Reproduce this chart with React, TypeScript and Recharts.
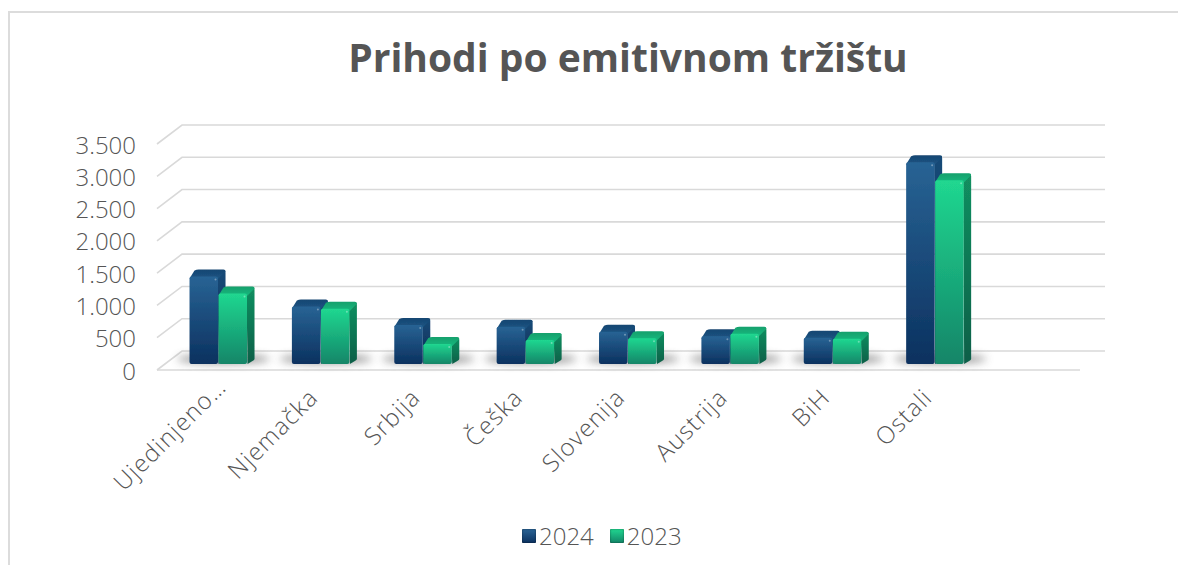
import React from "react";
import { BarChart, Bar, XAxis, YAxis, CartesianGrid } from "recharts";

const categories = ["Ujedinjeno…", "Njemačka", "Srbija", "Češka", "Slovenija", "Austrija", "BiH", "Ostali"];
const values2024 = [1355, 890, 605, 575, 500, 430, 405, 3125];
const values2023 = [1090, 855, 310, 370, 400, 470, 390, 2845];
const yTicks = [0, 500, 1000, 1500, 2000, 2500, 3000, 3500];
const seriesNames = ["2024", "2023"];
const data = categories.map((name, i) => ({ name, v2024: values2024[i], v2023: values2023[i] }));

const DX = 25, DY = 19, BX = 7, BY = 7, LIFT = 6;
const TEXT = "#555555";
const FONT = "'Open Sans', Lato, sans-serif";

function Bar3D({ x, y, width, height, tone, shadow }: any) {
  const b = y + height - LIFT, t = y - LIFT, r = x + width;
  return (
    <g>
      {shadow && <ellipse cx={x + width + 5} cy={b - 5} rx={width * 1.6} ry={4.5} fill="#555" opacity={0.62} filter="url(#soft)" />}
      <g filter="url(#edge)">
        <path d={`M${r - 1} ${t} L${r + BX - 2} ${t - BY + 1} Q${r + BX} ${t - BY} ${r + BX} ${t - BY + 3} L${r + BX} ${b - BY + 2} Q${r + BX} ${b - BY + 3} ${r + BX - 2} ${b - BY + 4} L${r} ${b} Z`} fill={`url(#side${tone})`} />
        <path d={`M${x} ${t + 2} L${x + BX - 2} ${t - BY + 1} Q${x + BX} ${t - BY} ${x + BX + 2} ${t - BY} L${r + BX - 2} ${t - BY} Q${r + BX} ${t - BY} ${r + BX} ${t - BY + 2} L${r} ${t + 2} Z`} fill={`url(#top${tone})`} />
        <rect x={x} y={t} width={width - 0.5} height={height} rx={2} fill={`url(#front${tone})`} />
        <circle cx={r - 3} cy={t + 3} r={1} fill="#fff" opacity={0.35} />
      </g>
    </g>
  );
}

function GridLine({ x1, x2, y1, index }: any) {
  return (
    <g key={`g${index}`}>
      <path d={`M${x1} ${y1} L${x1 + DX} ${y1 - DY} L${x2 + DX} ${y1 - DY}`} fill="none" stroke="#d9d9d9" strokeWidth={1.6} />
      {y1 > 360 && <line x1={x1} x2={x2} y1={y1} y2={y1} stroke="#d9d9d9" strokeWidth={1.6} />}
    </g>
  );
}

function CatTick({ x, y, payload }: any) {
  const shift = String(payload.value).endsWith("…") ? 15 : 0;
  return (
    <text transform={`translate(${x - 1},${y + 21}) rotate(-45)`} dx={shift} textAnchor="end" fill={TEXT} fontFamily={FONT} fontSize={24} fontWeight={300} letterSpacing={1.2}>
      {payload.value}
    </text>
  );
}

function Swatch({ tone }: { tone: string }) {
  return <span style={{ display: "inline-block", width: 14, height: 14, background: tone, marginRight: 3, boxShadow: "inset 0 0 2px rgba(0,0,0,0.55)", borderRadius: 1 }} />;
}

export default function App() {
  return (
    <div style={{ position: "absolute", left: 0, top: 0, width: 1178, height: 565, background: "#fff", overflow: "hidden" }}>
      <div style={{ position: "absolute", left: 8, top: 11, width: 1300, height: 700, borderLeft: "2px solid #dcdcdc", borderTop: "2px solid #dcdcdc", boxSizing: "border-box" }} />
      <div style={{ position: "absolute", left: 0, top: 33, width: 1256, textAlign: "center", color: TEXT, fontFamily: FONT, fontWeight: 700, fontSize: 39, lineHeight: "48px" }}>
        Prihodi po emitivnom tržištu
      </div>
      <BarChart width={1178} height={565} data={data} margin={{ top: 144, right: 98, bottom: 0, left: 0 }} barGap={0} barCategoryGap="22%" style={{ position: "absolute", left: 0, top: 0 }}>
        <defs>
          <filter id="soft" x="-30%" y="-100%" width="160%" height="300%"><feGaussianBlur stdDeviation="4" /></filter>
          <filter id="edge" x="-10%" y="-10%" width="120%" height="120%"><feGaussianBlur stdDeviation="0.45" /></filter>
          <linearGradient id="frontB" x1="0" y1="0" x2="0" y2="1"><stop offset="0" stopColor="#286394" /><stop offset="1" stopColor="#0b315f" /></linearGradient>
          <linearGradient id="frontG" x1="0" y1="0" x2="0" y2="1"><stop offset="0" stopColor="#20d790" /><stop offset="1" stopColor="#138568" /></linearGradient>
          <linearGradient id="sideB" x1="0" y1="0" x2="0" y2="1"><stop offset="0" stopColor="#174a78" /><stop offset="1" stopColor="#0a2c52" /></linearGradient>
          <linearGradient id="sideG" x1="0" y1="0" x2="0" y2="1"><stop offset="0" stopColor="#128f60" /><stop offset="1" stopColor="#0b5f48" /></linearGradient>
          <linearGradient id="topB" x1="0" y1="0" x2="0" y2="1"><stop offset="0" stopColor="#164672" /><stop offset="1" stopColor="#1c5482" /></linearGradient>
          <linearGradient id="topG" x1="0" y1="0" x2="0" y2="1"><stop offset="0" stopColor="#12a06c" /><stop offset="1" stopColor="#18b87e" /></linearGradient>
        </defs>
        <CartesianGrid vertical={false} horizontal={(p: any) => <GridLine {...p} />} />
        <XAxis dataKey="name" interval={0} padding={{ left: 10, right: 94 }} axisLine={false} tickLine={false} height={195} tick={<CatTick />} />
        <YAxis domain={[0, 3500]} ticks={yTicks} width={157} orientation="left" axisLine={false} tickLine={false} tickFormatter={(v: number) => v.toLocaleString("de-DE")} tick={{ fill: TEXT, fontFamily: FONT, fontSize: 24, fontWeight: 300, dy: 1 }} tickMargin={15} />
        <Bar dataKey="v2024" name={seriesNames[0]} isAnimationActive={false} shape={(p: any) => <Bar3D {...p} tone="B" shadow />} />
        <Bar dataKey="v2023" name={seriesNames[1]} isAnimationActive={false} shape={(p: any) => <Bar3D {...p} tone="G" />} />
      </BarChart>
      <div style={{ position: "absolute", left: 522, top: 519, display: "flex", alignItems: "center", gap: 16, color: TEXT, fontFamily: FONT, fontSize: 24, fontWeight: 300 }}>
        <span style={{ display: "flex", alignItems: "center" }}><Swatch tone="linear-gradient(#2a6496,#0b315f)" />{seriesNames[0]}</span>
        <span style={{ display: "flex", alignItems: "center" }}><Swatch tone="linear-gradient(#20d790,#138568)" />{seriesNames[1]}</span>
      </div>
    </div>
  );
}
